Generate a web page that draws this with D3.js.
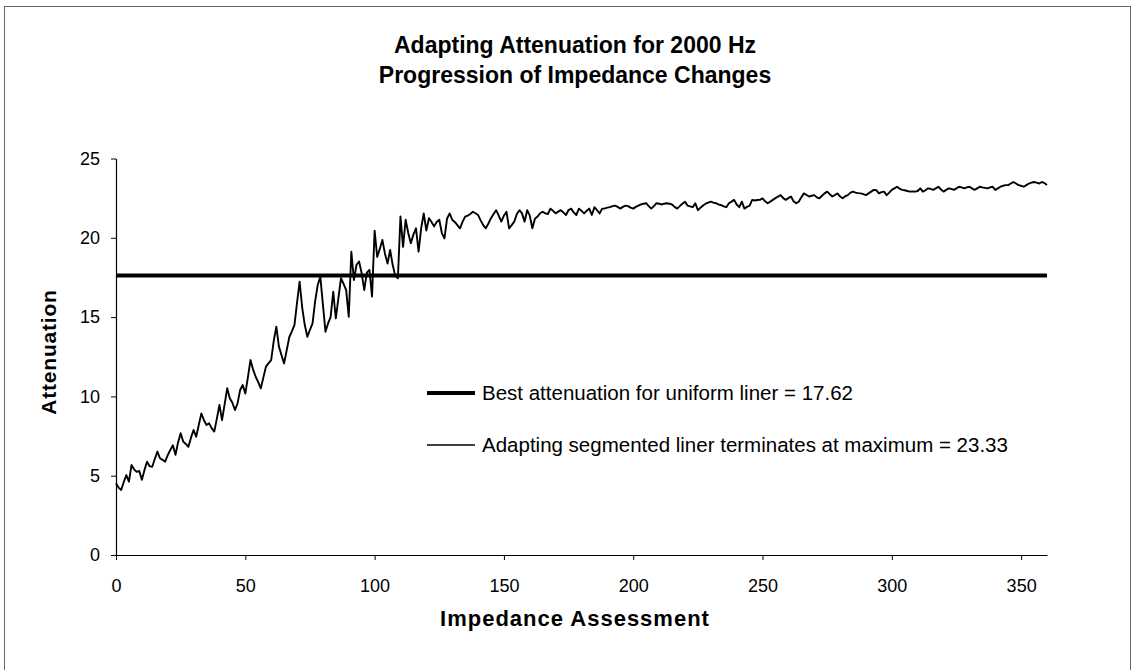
<!DOCTYPE html>
<html>
<head>
<meta charset="utf-8">
<script src="https://cdn.jsdelivr.net/npm/d3@7"></script>
<style>
  html, body { margin: 0; padding: 0; background: #fff; }
  svg { display: block; font-family: "Liberation Sans", Arial, Helvetica, sans-serif; }
</style>
</head>
<body>
<svg id="chart" width="1135" height="670"></svg>
<script>
// Chart text
const titleLines = ["Adapting Attenuation for 2000 Hz", "Progression of Impedance Changes"];
const xAxisTitle = "Impedance Assessment";
const yAxisTitle = "Attenuation";

// Tick labels
const xTicks = [0, 50, 100, 150, 200, 250, 300, 350];
const yTicks = [0, 5, 10, 15, 20, 25];

// Best attenuation reached by a uniform liner
const uniformBest = 17.62;
const uniformLabel = "Best attenuation for uniform liner = 17.62";

// Attenuation after each impedance assessment (index = assessment number 0..360)
const segmentedAttenuation = [
  4.52, 4.25, 4.10, 4.60, 5.04, 4.62, 5.67, 5.40, 5.24, 5.30,
  4.74, 5.35, 5.88, 5.60, 5.56, 6.05, 6.52, 6.10, 6.00, 5.88,
  6.30, 6.62, 6.92, 6.32, 7.10, 7.68, 7.15, 7.00, 6.82, 7.40,
  7.88, 7.46, 8.20, 8.93, 8.50, 8.20, 8.30, 8.00, 7.78, 8.60,
  9.46, 8.50, 9.50, 10.51, 9.88, 9.60, 9.14, 9.56, 10.40, 10.72,
  10.18, 11.20, 12.29, 11.70, 11.24, 10.90, 10.51, 11.20, 11.88, 12.10,
  12.29, 13.50, 14.40, 13.14, 12.60, 12.08, 12.90, 13.73, 14.10, 14.50,
  15.90, 17.23, 15.60, 14.50, 13.76, 14.20, 14.60, 16.00, 17.02, 17.55,
  15.80, 14.08, 14.60, 15.02, 16.60, 14.92, 16.20, 17.45, 17.10, 16.70,
  15.02, 19.12, 17.34, 18.30, 18.50, 17.76, 16.70, 17.80, 17.98, 16.30,
  20.45, 18.80, 19.30, 19.86, 19.00, 18.38, 19.23, 18.28, 17.60, 17.45,
  21.34, 19.43, 21.14, 20.30, 19.66, 20.20, 20.60, 19.13, 20.60, 21.54,
  20.45, 21.24, 21.00, 20.72, 21.00, 21.14, 20.30, 19.96, 21.20, 21.54,
  21.14, 21.00, 20.80, 20.60, 21.00, 21.34, 21.40, 21.50, 21.64, 21.55,
  21.44, 21.10, 20.80, 20.60, 20.90, 21.24, 21.50, 21.74, 21.40, 21.02,
  21.40, 21.64, 20.60, 20.80, 21.02, 21.50, 21.74, 21.54, 21.02, 21.74,
  21.40, 20.60, 21.20, 21.34, 21.55, 21.64, 21.54, 21.50, 21.84, 21.70,
  21.54, 21.65, 21.74, 21.60, 21.44, 21.75, 21.84, 21.60, 21.44, 21.84,
  21.70, 21.54, 21.70, 21.84, 21.44, 21.93, 21.75, 21.54, 21.84, 21.85,
  21.90, 21.93, 22.00, 22.03, 21.95, 21.84, 21.95, 22.03, 22.00, 21.90,
  21.84, 21.95, 22.03, 22.10, 22.15, 22.18, 22.00, 21.84, 22.00, 22.18,
  22.15, 22.10, 22.15, 22.18, 22.15, 22.10, 21.95, 21.84, 22.00, 22.15,
  22.28, 22.03, 21.98, 21.93, 22.18, 21.74, 21.90, 22.03, 22.15, 22.22,
  22.28, 22.22, 22.18, 22.10, 22.06, 21.98, 21.93, 22.18, 22.28, 22.39,
  22.10, 21.93, 22.28, 21.84, 21.95, 22.03, 22.39, 22.35, 22.38, 22.39,
  22.49, 22.30, 22.18, 22.28, 22.39, 22.50, 22.60, 22.69, 22.50, 22.39,
  22.50, 22.60, 22.30, 22.18, 22.28, 22.55, 22.80, 22.70, 22.60, 22.65,
  22.69, 22.55, 22.49, 22.65, 22.80, 22.91, 22.75, 22.60, 22.70, 22.80,
  22.60, 22.49, 22.62, 22.69, 22.85, 22.91, 22.85, 22.82, 22.80, 22.75,
  22.69, 22.80, 22.91, 23.02, 23.00, 22.80, 22.88, 22.91, 22.69, 22.85,
  23.02, 23.12, 23.22, 23.10, 23.02, 23.00, 22.95, 22.91, 22.92, 22.91,
  22.95, 23.12, 22.91, 23.00, 23.12, 23.08, 23.02, 23.12, 23.22, 23.05,
  22.91, 23.02, 23.12, 23.08, 23.02, 23.12, 23.22, 23.18, 23.12, 23.18,
  23.22, 23.12, 23.02, 23.12, 23.22, 23.18, 23.15, 23.12, 23.18, 23.22,
  23.02, 23.12, 23.22, 23.28, 23.32, 23.32, 23.42, 23.52, 23.42, 23.32,
  23.28, 23.22, 23.32, 23.42, 23.48, 23.52, 23.48, 23.42, 23.52, 23.45,
  23.33
];
const segmentedLabel = "Adapting segmented liner terminates at maximum = 23.33";

const svg = d3.select("#chart");
const W = 1135, H = 670;

svg.append("rect").attr("width", W).attr("height", H).attr("fill", "#fff");
// outer frame (bottom edge runs past the page)
svg.append("rect")
  .attr("x", 4.5).attr("y", 6.5).attr("width", 1126).attr("height", 680)
  .attr("fill", "none").attr("stroke", "#666").attr("stroke-width", 1);

const x = d3.scaleLinear().domain([0, 360]).range([116, 1047]);
const y = d3.scaleLinear().domain([0, 25]).range([555, 158.5]);

// titles
svg.selectAll("text.title").data(titleLines).join("text")
  .attr("class", "title")
  .attr("x", 575).attr("y", (d, i) => 53 + i * 30)
  .attr("text-anchor", "middle")
  .attr("font-size", 23).attr("font-weight", "bold").attr("fill", "#000")
  .text(d => d);

// axes
const yAxis = svg.append("g").attr("transform", `translate(${x(0)},0)`)
  .call(d3.axisLeft(y).tickValues(yTicks).tickSize(5).tickPadding(11).tickSizeOuter(0));
const xAxis = svg.append("g").attr("transform", `translate(0,${y(0)})`)
  .call(d3.axisBottom(x).tickValues(xTicks).tickSize(5).tickPadding(19).tickSizeOuter(0));
[xAxis, yAxis].forEach(g => {
  g.selectAll("path.domain").attr("stroke", "#000").attr("stroke-width", 1.2);
  g.selectAll(".tick line").attr("stroke", "#000").attr("stroke-width", 1);
  g.selectAll(".tick text").attr("font-size", 18).attr("fill", "#000")
    .attr("font-family", "Liberation Sans, Arial, sans-serif");
});

// axis titles
svg.append("text")
  .attr("x", 575).attr("y", 626)
  .attr("text-anchor", "middle").attr("font-size", 22).attr("font-weight", "bold")
  .attr("letter-spacing", 1)
  .text(xAxisTitle);
svg.append("text")
  .attr("transform", `translate(56,${y(12.8)}) rotate(-90)`)
  .attr("text-anchor", "middle").attr("font-size", 21).attr("font-weight", "bold")
  .attr("letter-spacing", 0.8)
  .text(yAxisTitle);

// uniform liner reference line
svg.append("line")
  .attr("x1", x(0)).attr("x2", x(360))
  .attr("y1", y(uniformBest)).attr("y2", y(uniformBest))
  .attr("stroke", "#000").attr("stroke-width", 4);

// adapting segmented liner
const line = d3.line().x((d, i) => x(i)).y(d => y(d));
svg.append("path")
  .datum(segmentedAttenuation)
  .attr("d", line)
  .attr("fill", "none").attr("stroke", "#000").attr("stroke-width", 1.9)
  .attr("stroke-linejoin", "round");

// legend
const legend = [
  { label: uniformLabel, width: 4, yPos: 393 },
  { label: segmentedLabel, width: 1.4, yPos: 445 }
];
const lg = svg.selectAll("g.legend").data(legend).join("g").attr("class", "legend")
  .attr("transform", d => `translate(427,${d.yPos})`);
lg.append("line").attr("x1", 0).attr("x2", 48).attr("y1", 0).attr("y2", 0)
  .attr("stroke", "#000").attr("stroke-width", d => d.width);
lg.append("text").attr("x", 55).attr("y", 0).attr("dy", "0.35em")
  .attr("font-size", 20.5).attr("fill", "#000").text(d => d.label);
</script>
</body>
</html>
